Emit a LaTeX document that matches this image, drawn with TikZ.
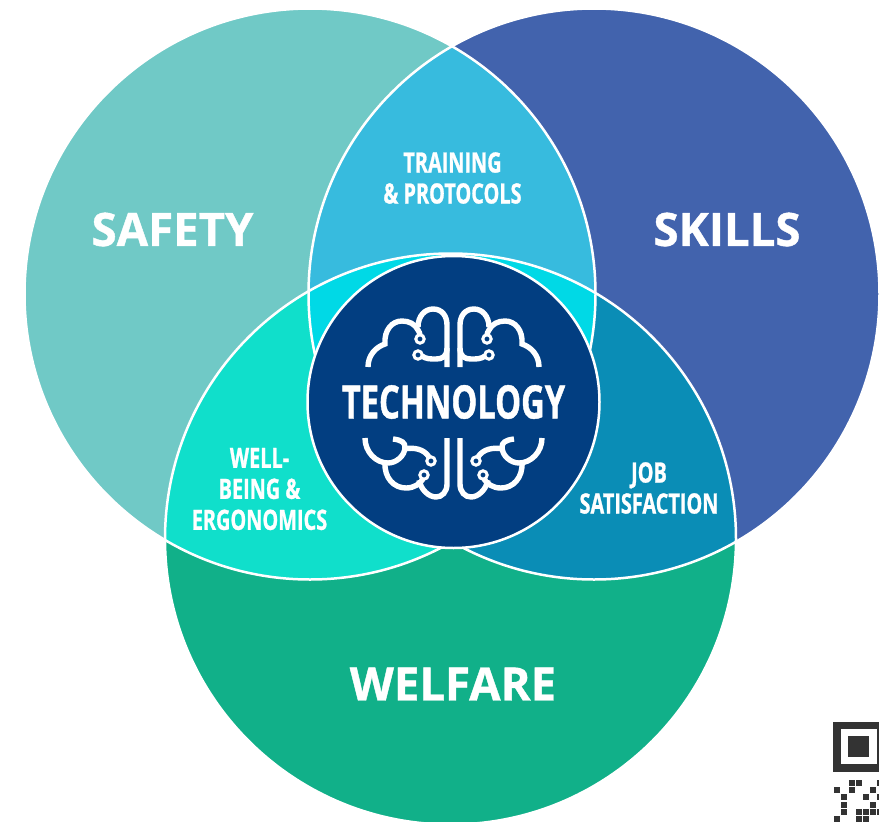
\documentclass[tikz,border=0pt]{standalone}
\usepackage{fontspec}
\newfontfamily\labf[FakeStretch=0.71,BoldFeatures={FakeBold=0.9}]{Open Sans}
\newfontfamily\bigf[FakeStretch=0.99,BoldFeatures={FakeBold=0.9}]{Open Sans}
\definecolor{safetyc}{HTML}{70C9C6}
\definecolor{skillsc}{HTML}{4263AD}
\definecolor{welfarec}{HTML}{11B089}
\definecolor{trainc}{HTML}{37BBDE}
\definecolor{wellc}{HTML}{10DFCB}
\definecolor{jobc}{HTML}{0A8DB6}
\definecolor{triplec}{HTML}{00D9E6}
\definecolor{navyc}{HTML}{023E81}
\definecolor{qrc}{HTML}{333333}
\tikzset{
  biglabel/.style={text=white,font=\bigf\bfseries\fontsize{46}{50}\selectfont,inner sep=0pt},
  techlabel/.style={text=white,font=\labf\bfseries\fontsize{46}{50}\selectfont,inner sep=0pt},
  smalllabel/.style={text=white,align=center,font=\labf\bfseries\fontsize{28}{31}\selectfont,inner sep=0pt},
  edgeline/.style={draw=white,line width=2.5pt},
  brainline/.style={draw=white,line width=5.4pt},
  brainport/.style={draw=white,line width=3pt,fill=navyc},
  qrcell/.style={fill=qrc}
}
\newcommand{\safetyshape}{(310,294) circle[radius=285.5pt]}
\newcommand{\skillsshape}{(594,294) circle[radius=285.5pt]}
\newcommand{\welfareshape}{(450.5,539) circle[radius=285.5pt]}
\newcommand{\brainhalf}{%
  \draw[brainline] (368,367) .. controls (368,355) and (376,347) .. (385,344)
     .. controls (384,330) and (392,321) .. (402,321)
     .. controls (409,321) and (415,324) .. (418,330)
     .. controls (419,332) and (420,333) .. (420,335);
  \draw[brainline] (418,327) .. controls (418,316) and (425,309) .. (433,309)
     .. controls (442,309) and (447,316) .. (447,325) -- (447,367);
  \draw[brainline] (422,356) .. controls (426,359) and (430,359) .. (436,359)
     .. controls (442,359) and (447,357) .. (447,348);
  \draw[brainport] (420,339) circle[radius=4.2pt];
  \draw[brainport] (418,355) circle[radius=4.2pt];
  \draw[brainline] (365,438) .. controls (365,452) and (376,463) .. (388,463)
     .. controls (396,463) and (405,456) .. (405,447)
     .. controls (405,443) and (402,440) .. (393,439);
  \draw[brainline] (404,449) .. controls (414,447) and (424,449) .. (429,457);
  \draw[brainline] (385,462) .. controls (384,478) and (394,488) .. (406,488)
     .. controls (414,488) and (420,484) .. (423,479);
  \draw[brainline] (419,480) .. controls (421,490) and (429,497) .. (436,497)
     .. controls (442,497) and (447,492) .. (447,484) -- (447,438);
  \draw[brainport] (431,461) circle[radius=4.2pt];
  \draw[brainport] (424,475) circle[radius=4.2pt];
}
\begin{document}
\begin{tikzpicture}[x=1pt,y=-1pt]
\useasboundingbox (0,0) rectangle (879,822);
\begin{scope}
\clip (0,0) rectangle (879,822);
\fill[safetyc] \safetyshape;
\fill[skillsc] \skillsshape;
\fill[welfarec] \welfareshape;
\begin{scope}\clip \safetyshape; \fill[trainc] \skillsshape; \fill[wellc] \welfareshape; \end{scope}
\begin{scope}\clip \skillsshape; \fill[jobc] \welfareshape;
  \clip \safetyshape; \fill[triplec] \welfareshape; \end{scope}
\draw[edgeline] \safetyshape;
\draw[edgeline] \skillsshape;
\draw[edgeline] \welfareshape;
\end{scope}
\node[circle,fill=navyc,draw=white,line width=2.5pt,minimum size=292pt,inner sep=0pt] (core) at (453.5,402) {};
\brainhalf
\begin{scope}[xshift=907pt,xscale=-1]
\brainhalf
\end{scope}
\node[techlabel] (tech) at (453.5,402) {TECHNOLOGY};
\node[biglabel] (safety) at (172.5,229.5) {SAFETY};
\node[biglabel] (skills) at (727,229.5) {SKILLS};
\node[biglabel] (welfare) at (453,684) {WELFARE};
\node[smalllabel] (train) at (452.5,178) {TRAINING\\\& PROTOCOLS};
\node[smalllabel] (well) at (259.5,489) {WELL-\\BEING \&\\ERGONOMICS};
\node[smalllabel] (job) at (649,488) {JOB\\SATISFACTION};
% QR fragment
\fill[qrc] (833,722) rectangle (879,772);
\fill[white] (841,729) rectangle (877,764);
\fill[qrc] (848,736) rectangle (869,757);
\foreach \cx/\cy in {849/780,856/780,877/780,834/787,849/787,870/787,841/794,863/794,877/794,841/802,870/802,841/809,856/809,863/809,870/809,877/809,834/816,856/816,863/816}
  \fill[qrcell] (\cx,\cy) rectangle ++(6,6);
\end{tikzpicture}
\end{document}
